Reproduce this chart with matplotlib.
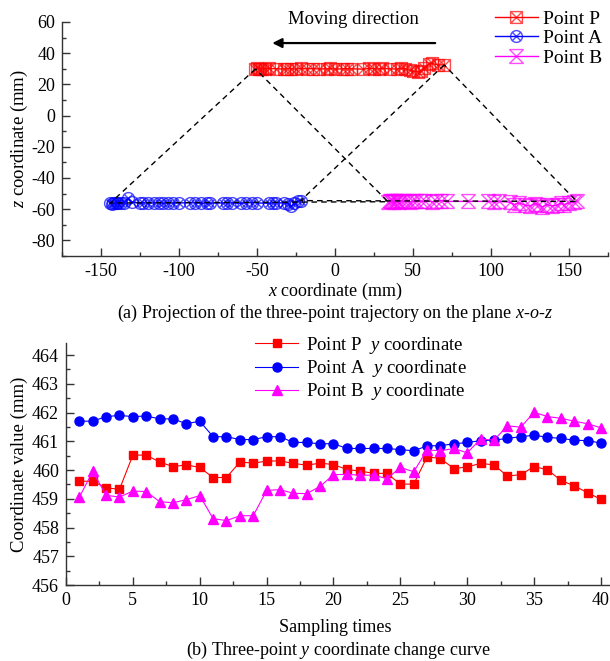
import numpy as np
import matplotlib.pyplot as plt
from matplotlib.path import Path
from matplotlib.ticker import MultipleLocator

plt.rcParams['font.family'] = ['Liberation Serif', 'DejaVu Serif']
plt.rcParams['mathtext.fontset'] = 'custom'
plt.rcParams['mathtext.rm'] = 'Liberation Serif'
plt.rcParams['mathtext.it'] = 'Liberation Serif:italic'
plt.rcParams['axes.unicode_minus'] = False

# (a) x-o-z trajectories, 40 samples each (moving right -> left)
p_x = [70, 66, 62, 60, 57, 55, 53, 50, 48, 45, 42, 40, 35, 30, 28, 25, 22, 18, 10, 8,
       5, 0, -3, -5, -10, -14, -18, -22, -25, -28, -31, -33, -38, -42, -45, -47, -48, -49, -50, -51]
p_z = [32.5, 32.5, 33.5, 33, 30.5, 28.5, 28, 28.5, 29, 30, 30.2, 29.8, 30, 30.3, 29.9, 30, 30.2, 29.8, 30, 30.1,
       30, 29.8, 30.2, 30, 29.9, 30.1, 30, 30.2, 29.8, 30, 30.1, 29.9, 30, 30.2, 30, 29.8, 30.1, 30, 30.2, 29.9]
a_x = [-22, -24, -26, -28, -30, -33, -38, -40, -42, -50, -53, -57, -60, -66, -69, -72, -80, -82, -86, -90,
       -93, -100, -104, -107, -110, -113, -116, -120, -123, -125, -130, -133, -135, -137, -139, -140, -141, -142, -143, -144]
a_z = [-54.5, -55, -56, -58, -56.5, -56, -55.8, -56, -56.2, -56, -55.8, -56, -56.2, -56, -55.9, -56, -56.1, -56, -56.2, -56,
       -55.8, -56, -56.1, -56, -56.2, -55.8, -56, -56.1, -55.9, -56, -55.5, -53, -56, -56.2, -56, -55.8, -56.3, -56, -56.5, -56]
b_x = [155, 153, 150, 147, 145, 142, 139, 136, 133, 130, 128, 125, 122, 118, 115, 112, 105, 102, 98, 85,
       72, 68, 65, 62, 58, 55, 52, 50, 48, 46, 44, 42, 41, 40, 39, 38, 37, 36, 35, 34]
b_z = [-55, -55.5, -56, -57, -56, -57.5, -58, -57, -58.5, -57, -56.5, -58, -57.5, -56, -57, -55.5, -55, -55.5, -55, -55,
       -55, -54.5, -55, -55.2, -54.8, -55, -54.5, -55, -55.3, -54.8, -55, -54.6, -55.2, -55, -54.7, -55.3, -55, -54.8, -55, -55.2]

# (b) y coordinate of each point per sampling time
samples = np.arange(1, 41)
p_y = [459.61, 459.61, 459.38, 459.33, 460.52, 460.52, 460.28, 460.12, 460.18, 460.09,
       459.74, 459.74, 460.28, 460.24, 460.31, 460.32, 460.23, 460.17, 460.24, 460.19,
       460.02, 459.96, 459.89, 459.88, 459.51, 459.51, 460.46, 460.40, 460.05, 460.11,
       460.23, 460.18, 459.79, 459.84, 460.12, 460.01, 459.64, 459.45, 459.21, 458.98]
a_y = [461.70, 461.70, 461.86, 461.90, 461.86, 461.88, 461.78, 461.78, 461.61, 461.70,
       461.16, 461.16, 461.06, 461.06, 461.16, 461.16, 460.96, 460.96, 460.91, 460.92,
       460.75, 460.75, 460.75, 460.75, 460.71, 460.67, 460.84, 460.85, 460.91, 460.96,
       461.02, 461.04, 461.10, 461.16, 461.21, 461.14, 461.10, 461.04, 461.02, 460.94]
b_y = [459.06, 459.95, 459.12, 459.06, 459.27, 459.25, 458.90, 458.86, 458.97, 459.11,
       458.31, 458.24, 458.41, 458.41, 459.29, 459.32, 459.19, 459.18, 459.43, 459.84,
       459.85, 459.82, 459.82, 459.70, 460.09, 459.94, 460.70, 460.67, 460.75, 460.60,
       461.08, 461.04, 461.54, 461.49, 462.01, 461.86, 461.80, 461.70, 461.61, 461.47]

# custom open markers: boxed X, circled X, X with bars
M, L = Path.MOVETO, Path.LINETO
box_x = Path([(-1, -1), (1, -1), (1, 1), (-1, 1), (-1, -1), (-1, -1), (1, 1), (-1, 1), (1, -1)],
             [M, L, L, L, L, M, L, M, L])
circ_x = Path.make_compound_path(Path.unit_circle(),
                                 Path([(-0.7, -0.7), (0.7, 0.7)]), Path([(-0.7, 0.7), (0.7, -0.7)]))
bar_x = Path([(-1, -1), (1, 1), (-1, 1), (1, -1), (-1, 1), (1, 1), (-1, -1), (1, -1)],
             [M, L, M, L, M, L, M, L])

W, H = 610, 661
fig = plt.figure(figsize=(W / 100, H / 100), dpi=100)

def px(x0, y0, x1, y1):
    return [x0 / W, 1 - y1 / H, (x1 - x0) / W, (y1 - y0) / H]

def style(ax):
    for s in ('top', 'right'):
        ax.spines[s].set_visible(False)
    for s in ('left', 'bottom'):
        ax.spines[s].set_linewidth(1.0)
        ax.spines[s].set_color('#333333')
    ax.tick_params(which='both', direction='in', labelsize=13, color='#333333')
    ax.tick_params(which='major', length=6, width=1, pad=5)
    ax.tick_params(which='minor', length=3, width=1)

# ---- (a) ----
ax1 = fig.add_axes(px(62, 22, 608, 256))
style(ax1)
ax1.set_xlim(-175, 175)
ax1.set_ylim(-90, 60)
ax1.xaxis.set_major_locator(MultipleLocator(50))
ax1.xaxis.set_minor_locator(MultipleLocator(25))
ax1.yaxis.set_major_locator(MultipleLocator(20))
ax1.yaxis.set_minor_locator(MultipleLocator(10))

# two triangles joining the end positions of P, A, B
dash = dict(color='black', lw=1.0, ls=(0, (4, 3)), zorder=4)
ax1.plot([p_x[-1], a_x[-1], b_x[-1], p_x[-1]], [p_z[-1], a_z[-1], b_z[-1], p_z[-1]], **dash)
ax1.plot([p_x[0], a_x[0], b_x[0], p_x[0]], [p_z[0], a_z[0], b_z[0], p_z[0]], **dash)

ax1.plot(p_x, p_z, color='red', lw=1, marker=box_x, ms=8.5, mfc='none',
         mec=(1, 0, 0, 0.7), mew=1, label='Point P', zorder=3)
ax1.plot(a_x, a_z, color='blue', lw=1, marker=circ_x, ms=8.5, mfc='none',
         mec=(0, 0, 1, 0.7), mew=1, label='Point A', zorder=3)
ax1.plot(b_x, b_z, color='magenta', lw=1, marker=bar_x, ms=10, mfc='none',
         mec=(1, 0, 1, 0.7), mew=1, label='Point B', zorder=3)

ax1.annotate('', xy=(-42, 46.5), xytext=(66, 46.5),
             arrowprops=dict(arrowstyle='-|>', color='black', lw=1.6, mutation_scale=14))
ax1.text(12, 61.5, 'Moving direction', ha='center', va='center', fontsize=13.5, clip_on=False)

ax1.legend(loc='upper left', bbox_to_anchor=(495 / W, 1 - 10 / H), bbox_transform=fig.transFigure,
           frameon=False, fontsize=14, handlelength=2.2, handletextpad=0.25,
           borderpad=0, borderaxespad=0, labelspacing=0.1)

ax1.set_ylabel('$z$ coordinate (mm)', fontsize=13.5, labelpad=1)
fig.text(335 / W, 1 - 291 / H, '$x$ coordinate (mm)', ha='center', va='center', fontsize=13)
fig.text(335 / W, 1 - 313 / H, '(a) Projection of the three-point trajectory on the plane $x$-$o$-$z$',
         ha='center', va='center', fontsize=13)

# ---- (b) ----
ax2 = fig.add_axes(px(66, 343, 609, 585))
style(ax2)
ax2.set_xlim(0, 40.6)
ax2.set_ylim(456, 464.42)
ax2.xaxis.set_major_locator(MultipleLocator(5))
ax2.xaxis.set_minor_locator(MultipleLocator(2.5))
ax2.yaxis.set_major_locator(MultipleLocator(1))
ax2.yaxis.set_minor_locator(MultipleLocator(0.5))

ax2.plot(samples, p_y, color='red', lw=0.8, marker='s', ms=6, mec='red', mfc='red',
         label='Point P  $y$ coordinate')
ax2.plot(samples, a_y, color='blue', lw=0.8, marker='o', ms=6.5, mec='blue', mfc='blue',
         label='Point A  $y$ coordinate')
ax2.plot(samples, b_y, color='magenta', lw=0.8, marker='^', ms=7, mec='magenta', mfc='magenta',
         label='Point B  $y$ coordinate')

ax2.legend(loc='upper left', bbox_to_anchor=(255 / W, 1 - 335 / H), bbox_transform=fig.transFigure,
           frameon=False, fontsize=13.5, handlelength=2.3, handletextpad=0.4,
           borderpad=0, borderaxespad=0, labelspacing=0.12)

ax2.set_ylabel('Coordinate value (mm)', fontsize=13.5, labelpad=3)
fig.text(335 / W, 1 - 627 / H, 'Sampling times', ha='center', va='center', fontsize=13)
fig.text(338 / W, 1 - 650 / H, '(b) Three-point $y$ coordinate change curve',
         ha='center', va='center', fontsize=13)

fig.savefig('out.png', dpi=100)
